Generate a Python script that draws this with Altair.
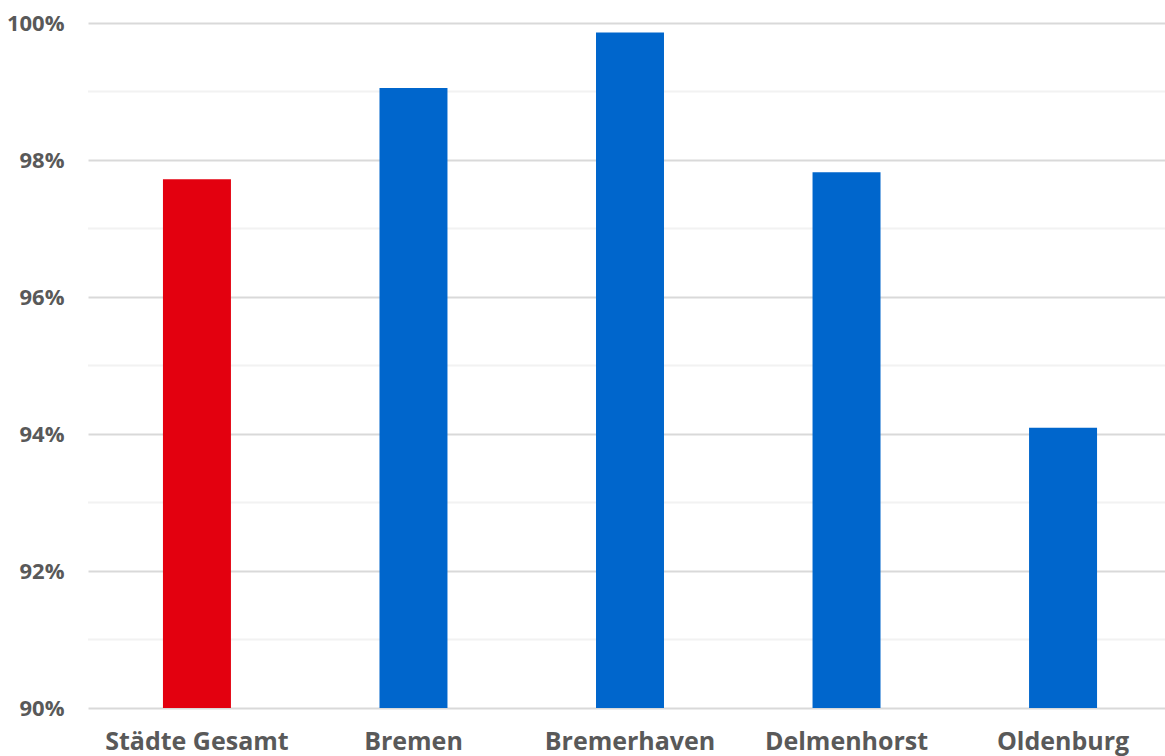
import altair as alt
import pandas as pd

# Share per city, in percent
cities = ["Städte Gesamt", "Bremen", "Bremerhaven", "Delmenhorst", "Oldenburg"]
shares = [97.72, 99.05, 99.86, 97.82, 94.09]
bar_colors = ["#e3000f", "#0066cc", "#0066cc", "#0066cc", "#0066cc"]

major_ticks = [90, 92, 94, 96, 98, 100]
minor_ticks = [91, 93, 95, 97, 99]

FONT = "Open Sans"
TEXT_GRAY = "#595959"

df = pd.DataFrame({"city": cities, "share": shares, "color": bar_colors})
minor_df = pd.DataFrame({"tick": minor_ticks})

y_scale = alt.Scale(domain=[90, 100], zero=False, nice=False)
y_axis = alt.Axis(
    values=major_ticks,
    labelExpr="datum.value + '%'",
    labelFont=FONT,
    labelFontSize=22,
    labelFontWeight="bold",
    labelColor=TEXT_GRAY,
    labelPadding=24,
    ticks=False,
    domain=False,
    grid=True,
    gridColor="#d9d9d9",
    gridWidth=2,
)

minor_grid = alt.Chart(minor_df).mark_rule(color="#f2f2f2", strokeWidth=2).encode(
    y=alt.Y("tick:Q", scale=y_scale, axis=y_axis, title=None)
)

bars = alt.Chart(df).mark_bar().encode(
    x=alt.X(
        "city:N",
        sort=cities,
        title=None,
        scale=alt.Scale(paddingInner=0.686, paddingOuter=0.33, align=0.5245),
        axis=alt.Axis(
            labelAngle=0,
            labelFont=FONT,
            labelFontSize=25,
            labelFontWeight="bold",
            labelColor=TEXT_GRAY,
            labelPadding=21,
            labelLimit=0,
            ticks=False,
            domain=False,
            grid=False,
        ),
    ),
    y=alt.Y("share:Q", scale=y_scale, title=None, axis=y_axis),
    y2=alt.Y2(datum=90),
    color=alt.Color("color:N", scale=None),
)

chart = (
    alt.layer(minor_grid, bars)
    .properties(
        width=1077,
        height=685,
        padding={"left": 88, "top": 23, "right": 0, "bottom": 48},
        autosize=alt.AutoSizeParams(type="none"),
        background="white",
    )
    .configure_view(stroke=None)
)

chart.save("out.html", embed_options={"renderer": "svg", "actions": False})
